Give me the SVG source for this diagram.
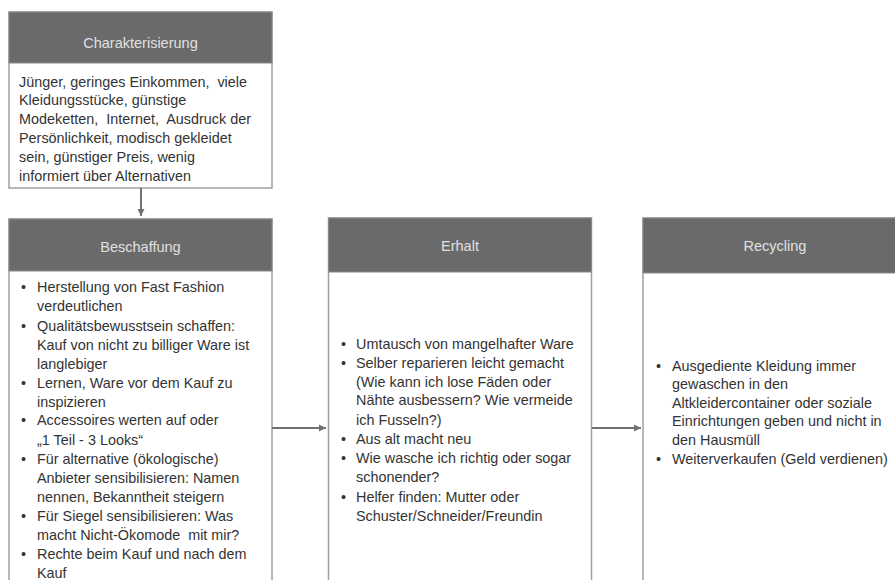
<svg xmlns="http://www.w3.org/2000/svg" width="895" height="580" viewBox="0 0 895 580">
<defs>
<marker id="ah" markerWidth="8" markerHeight="8" refX="7" refY="4" orient="auto" markerUnits="userSpaceOnUse">
<path d="M0,0.5 L7,4 L0,7.5 Z" fill="#707070"/>
</marker>
</defs>
<style>
.hd{fill:#6a6a6a;stroke:#8a8a8a;stroke-width:1}
.bd{fill:#ffffff;stroke:#a0a0a0;stroke-width:1.5}
.ht{font-family:"Liberation Sans",Arial,sans-serif;font-size:14.5px;fill:#e0e0e0;text-anchor:middle}
.tx{font-family:"Liberation Sans",Arial,sans-serif;font-size:14.4px;fill:#333333;white-space:pre}
.cn{stroke:#707070;stroke-width:2;fill:none}
</style>
<rect width="895" height="580" fill="#ffffff"/>

<g id="charakterisierung">
<rect class="bd" x="9" y="12" width="263" height="176"/>
<rect class="hd" x="9" y="12" width="263" height="51"/>
<text class="ht" x="140.5" y="48">Charakterisierung</text>
<text class="tx" x="19">
<tspan x="19" y="87">Jünger, geringes Einkommen,  viele</tspan>
<tspan x="19" y="105">Kleidungsstücke, günstige</tspan>
<tspan x="19" y="124">Modeketten,  Internet,  Ausdruck der</tspan>
<tspan x="19" y="143">Persönlichkeit, modisch gekleidet</tspan>
<tspan x="19" y="162">sein, günstiger Preis, wenig</tspan>
<tspan x="19" y="181">informiert über Alternativen</tspan>
</text>
</g>

<g id="beschaffung">
<rect class="bd" x="9" y="219" width="263" height="370"/>
<rect class="hd" x="9" y="219" width="263" height="52"/>
<text class="ht" x="140.5" y="252">Beschaffung</text>
<text class="tx">
<tspan x="21" y="292">•</tspan><tspan x="37" y="292">Herstellung von Fast Fashion</tspan>
<tspan x="37" y="311">verdeutlichen</tspan>
<tspan x="21" y="331">•</tspan><tspan x="37" y="331">Qualitätsbewusstsein schaffen:</tspan>
<tspan x="37" y="350">Kauf von nicht zu billiger Ware ist</tspan>
<tspan x="37" y="369">langlebiger</tspan>
<tspan x="21" y="388">•</tspan><tspan x="37" y="388">Lernen, Ware vor dem Kauf zu</tspan>
<tspan x="37" y="407">inspizieren</tspan>
<tspan x="21" y="425">•</tspan><tspan x="37" y="425">Accessoires werten auf oder</tspan>
<tspan x="37" y="445">„1 Teil - 3 Looks“</tspan>
<tspan x="21" y="464">•</tspan><tspan x="37" y="464">Für alternative (ökologische)</tspan>
<tspan x="37" y="483">Anbieter sensibilisieren: Namen</tspan>
<tspan x="37" y="502">nennen, Bekanntheit steigern</tspan>
<tspan x="21" y="521">•</tspan><tspan x="37" y="521">Für Siegel sensibilisieren: Was</tspan>
<tspan x="37" y="540">macht Nicht-Ökomode  mit mir?</tspan>
<tspan x="21" y="559">•</tspan><tspan x="37" y="559">Rechte beim Kauf und nach dem</tspan>
<tspan x="37" y="578">Kauf</tspan>
</text>
</g>

<g id="erhalt">
<rect class="bd" x="328.5" y="218" width="263" height="371"/>
<rect class="hd" x="328.5" y="218" width="263" height="54"/>
<text class="ht" x="460" y="251">Erhalt</text>
<text class="tx">
<tspan x="341" y="349">•</tspan><tspan x="356" y="349">Umtausch von mangelhafter Ware</tspan>
<tspan x="341" y="368">•</tspan><tspan x="356" y="368">Selber reparieren leicht gemacht</tspan>
<tspan x="356" y="387">(Wie kann ich lose Fäden oder</tspan>
<tspan x="356" y="405">Nähte ausbessern? Wie vermeide</tspan>
<tspan x="356" y="425">ich Fusseln?)</tspan>
<tspan x="341" y="444">•</tspan><tspan x="356" y="444">Aus alt macht neu</tspan>
<tspan x="341" y="463">•</tspan><tspan x="356" y="463">Wie wasche ich richtig oder sogar</tspan>
<tspan x="356" y="482">schonender?</tspan>
<tspan x="341" y="502">•</tspan><tspan x="356" y="502">Helfer finden: Mutter oder</tspan>
<tspan x="356" y="521">Schuster/Schneider/Freundin</tspan>
</text>
</g>

<g id="recycling">
<rect class="bd" x="643" y="218" width="264" height="371"/>
<rect class="hd" x="643" y="218" width="264" height="55"/>
<text class="ht" x="775" y="251">Recycling</text>
<text class="tx">
<tspan x="656" y="371">•</tspan><tspan x="672" y="371">Ausgediente Kleidung immer</tspan>
<tspan x="672" y="389">gewaschen in den</tspan>
<tspan x="672" y="408">Altkleidercontainer oder soziale</tspan>
<tspan x="672" y="426">Einrichtungen geben und nicht in</tspan>
<tspan x="672" y="445">den Hausmüll</tspan>
<tspan x="656" y="464">•</tspan><tspan x="672" y="464">Weiterverkaufen (Geld verdienen)</tspan>
</text>
</g>

<g id="connectors">
<line class="cn" x1="141" y1="188" x2="141" y2="216" marker-end="url(#ah)"/>
<line class="cn" x1="272" y1="428" x2="326" y2="428" marker-end="url(#ah)"/>
<line class="cn" x1="592" y1="428" x2="641" y2="428" marker-end="url(#ah)"/>
</g>
</svg>
